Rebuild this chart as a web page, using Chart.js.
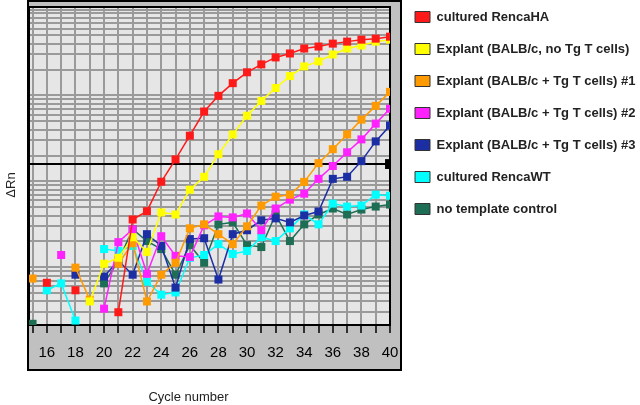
<!DOCTYPE html>
<html>
<head>
<meta charset="utf-8">
<script src="https://cdn.jsdelivr.net/npm/chart.js@4.4.1/dist/chart.umd.min.js"></script>
<style>
  html, body { margin: 0; padding: 0; background: #fff; }
  #wrap { width: 640px; height: 405px; }
</style>
</head>
<body>
<div id="wrap"><canvas id="chart" width="640" height="405"></canvas></div>
<script>
const cycles = [15, 16, 17, 18, 19, 20, 21, 22, 23, 24, 25, 26, 27, 28, 29, 30, 31, 32, 33, 34, 35, 36, 37, 38, 39, 40];
const xTickLabels = [16, 18, 20, 22, 24, 26, 28, 30, 32, 34, 36, 38, 40];

// delta Rn per cycle (null = below zero / not plotted)
const rencaHA   = [null, 0.0066, null, 0.0054, null, null, 0.0030, 0.036, 0.045, 0.099, 0.18, 0.34, 0.65, 0.99, 1.39, 1.86, 2.30, 2.77, 3.08, 3.52, 3.71, 4.01, 4.23, 4.46, 4.58, 4.83];
const noTg      = [null, null, null, null, 0.0040, 0.011, 0.0129, 0.0224, 0.0151, 0.0435, 0.0412, 0.080, 0.113, 0.207, 0.352, 0.581, 0.865, 1.22, 1.68, 2.18, 2.49, 3.00, 3.52, 3.81, 4.23, 4.46];
const tg1       = [0.0074, null, null, 0.0099, 0.0042, null, 0.011, 0.0191, 0.0040, 0.0082, 0.0113, 0.0284, 0.0316, 0.0243, 0.0186, 0.030, 0.0523, 0.0664, 0.070, 0.0987, 0.163, 0.237, 0.352, 0.523, 0.757, 1.10];
const tg2       = [null, null, 0.0139, null, null, 0.0033, 0.0196, 0.0277, 0.0084, 0.023, 0.0136, 0.0132, 0.0308, 0.0391, 0.0381, 0.0423, 0.027, 0.0483, 0.0613, 0.0719, 0.107, 0.151, 0.218, 0.308, 0.470, 0.700];
const tg3       = [null, null, null, 0.0082, null, 0.0078, 0.0119, 0.0082, 0.0243, 0.0177, 0.0058, 0.0213, 0.0218, 0.0072, 0.0243, 0.027, 0.0352, 0.0371, 0.0333, 0.0401, 0.0446, 0.107, 0.113, 0.172, 0.292, 0.446];
const rencaWT   = [null, 0.0054, 0.0065, 0.0024, null, 0.0163, 0.0155, 0.0177, 0.0068, 0.0048, 0.0051, 0.0129, 0.0139, 0.0186, 0.0143, 0.0155, 0.0224, 0.0202, 0.0284, 0.0412, 0.0316, 0.0551, 0.0509, 0.0523, 0.070, 0.0681];
const ntc       = [0.0022, null, null, null, null, 0.0065, 0.0119, 0.0277, 0.0202, 0.0163, 0.0082, 0.0181, 0.0113, 0.0316, 0.0333, 0.0181, 0.0172, 0.0412, 0.0202, 0.0316, 0.0412, 0.0483, 0.0412, 0.047, 0.0509, 0.0537];

const threshold = 0.159;
const yMin = 0.00213, yMax = 10.7;
const yDecades = [0.001, 0.01, 0.1, 1, 10];
const yMantissas = [1, 2, 3, 4, 5, 6, 7, 8, 9];
const yGridValues = yDecades.flatMap(d => yMantissas.map(m => +(m * d).toPrecision(2)));

const series = [
  { label: 'cultured RencaHA', data: rencaHA, color: '#ff1a1a' },
  { label: 'Explant (BALB/c, no Tg T cells)', data: noTg, color: '#ffff00' },
  { label: 'Explant (BALB/c + Tg T cells) #1', data: tg1, color: '#ff9a00' },
  { label: 'Explant (BALB/c + Tg T cells) #2', data: tg2, color: '#ff22ff' },
  { label: 'Explant (BALB/c + Tg T cells) #3', data: tg3, color: '#1c2ea4' },
  { label: 'cultured RencaWT', data: rencaWT, color: '#00ffff' },
  { label: 'no template control', data: ntc, color: '#1e6e55' }
];

const fontFamily = '"Liberation Sans", Arial, sans-serif';

const framePlugin = {
  id: 'frame',
  beforeDraw(chart) {
    const { ctx, chartArea: a } = chart;
    ctx.save();
    ctx.fillStyle = '#fff';
    ctx.fillRect(0, 0, chart.width, chart.height);
    ctx.fillStyle = '#c0c0c0';
    ctx.fillRect(a.left - 2, 0, a.right + 12 - (a.left - 2), a.bottom + 45);
    ctx.strokeStyle = '#000';
    ctx.lineWidth = 2;
    ctx.strokeRect(a.left - 1, 1, a.right + 11 - (a.left - 1), a.bottom + 44);
    ctx.fillStyle = '#e6e6e6';
    ctx.fillRect(a.left, a.top, a.right - a.left, a.bottom - a.top);
    ctx.restore();
  },
  beforeDatasetsDraw(chart) {
    const { ctx, chartArea: a } = chart;
    ctx.save();
    ctx.strokeStyle = '#000';
    ctx.lineWidth = 2;
    ctx.strokeRect(a.left, a.top, a.right - a.left, a.bottom - a.top);
    ctx.restore();
  },
  afterDraw(chart) {
    const { ctx, chartArea: a } = chart;
    ctx.save();
    ctx.fillStyle = '#222';
    ctx.font = '13px ' + fontFamily;
    ctx.textAlign = 'center';
    ctx.textBaseline = 'middle';
    ctx.fillText('Cycle number', (a.left + a.right) / 2 - 21, a.bottom + 72);
    ctx.translate(a.left - 18, (a.bottom + 45) / 2);
    ctx.rotate(-Math.PI / 2);
    ctx.fillText('ΔRn', 0, 0);
    ctx.restore();
  }
};

const datasets = series.map(s => ({
  label: s.label,
  data: cycles.map((c, i) => ({ x: c, y: s.data[i] })),
  borderColor: s.color,
  backgroundColor: s.color,
  borderWidth: 1.5,
  pointStyle: 'rect',
  pointRadius: 5.66,
  pointBorderWidth: 0,
  pointBackgroundColor: s.color
}));

datasets.push({
  label: 'threshold',
  data: [{ x: 14.75, y: threshold }, { x: 40, y: threshold }],
  borderColor: '#000',
  backgroundColor: '#000',
  borderWidth: 2,
  pointStyle: 'rect',
  pointRadius: [0, 7],
  pointBorderWidth: 0,
  pointBackgroundColor: '#000'
});

const chart = new Chart(document.getElementById('chart'), {
  type: 'line',
  data: { datasets },
  plugins: [framePlugin],
  options: {
    responsive: false,
    animation: false,
    devicePixelRatio: 1,
    layout: { padding: { left: 0, right: 0, top: -8.5, bottom: 0 } },
    plugins: {
      tooltip: { enabled: false },
      title: { display: true, text: '', padding: 0, font: { size: 10, lineHeight: 1.15 } },
      legend: {
        position: 'right',
        align: 'start',
        maxWidth: 244,
        labels: {
          boxWidth: 15,
          boxHeight: 11,
          padding: 19,
          color: '#222',
          font: { family: fontFamily, size: 13, weight: 'bold' },
          filter: item => item.datasetIndex < series.length,
          generateLabels(c) {
            return Chart.defaults.plugins.legend.labels.generateLabels(c).map(item =>
              Object.assign(item, { strokeStyle: '#333', lineWidth: 1 }));
          }
        }
      }
    },
    scales: {
      x: {
        type: 'linear',
        min: 14.75,
        max: 40,
        afterBuildTicks: s => { s.ticks = cycles.map(c => ({ value: c })); },
        afterFit: s => { s.height = 80; },
        ticks: {
          autoSkip: false,
          maxRotation: 0,
          padding: 11,
          color: '#000',
          font: { family: fontFamily, size: 15 },
          callback: v => xTickLabels.includes(v) ? String(v) : ''
        },
        grid: { color: '#9a9a9a', lineWidth: 2, tickColor: '#000', tickLength: 8, tickWidth: 1.5 },
        border: { display: false }
      },
      y: {
        type: 'logarithmic',
        min: yMin,
        max: yMax,
        afterBuildTicks: s => { s.ticks = yGridValues.filter(v => v > yMin && v < yMax).map(v => ({ value: v })); },
        afterFit: s => { s.width = 29; },
        ticks: { display: false },
        grid: { color: '#9a9a9a', lineWidth: 2, drawTicks: false },
        border: { display: false }
      },
      gap: {
        type: 'linear',
        position: 'right',
        display: true,
        afterFit: s => { s.width = 6; },
        ticks: { display: false },
        grid: { display: false },
        border: { display: false }
      }
    }
  }
});
</script>
</body>
</html>
